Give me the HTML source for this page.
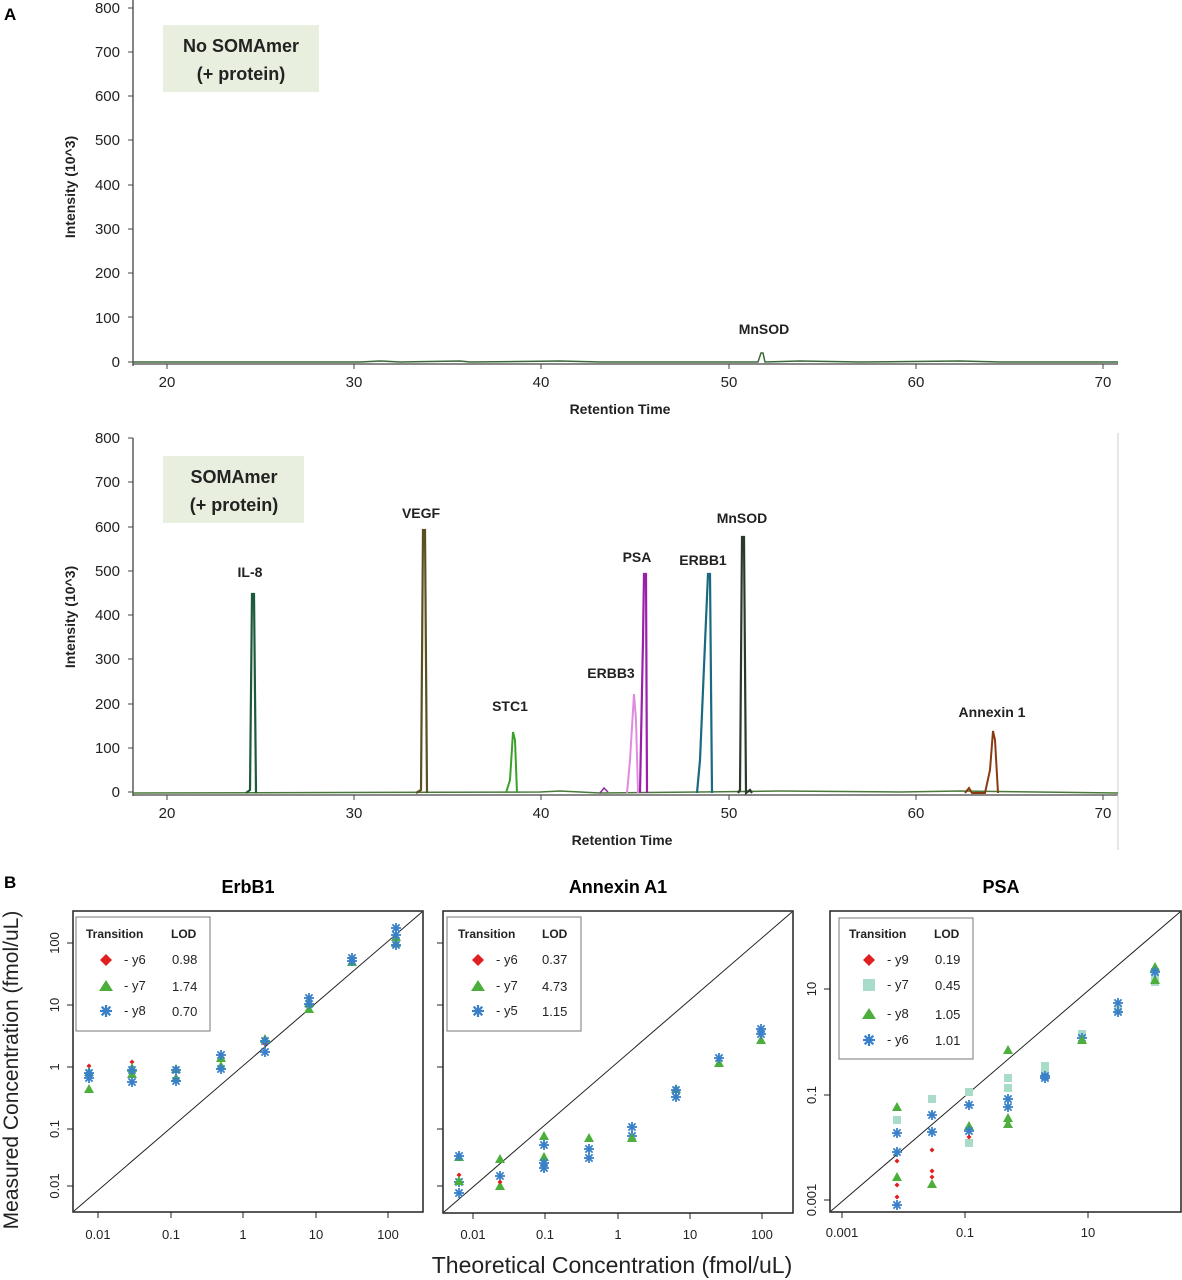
<!DOCTYPE html>
<html><head><meta charset="utf-8"><style>
html,body{margin:0;padding:0;background:#fff}
svg{display:block;font-family:"Liberation Sans",sans-serif}
.b{font-weight:bold}
</style></head><body>
<svg width="1182" height="1280" viewBox="0 0 1182 1280" xmlns="http://www.w3.org/2000/svg">
<defs>
<path id="dm" d="M0,-6 L6,0 L0,6 L-6,0Z" fill="#e02020"/>
<path id="dms" d="M0,-2.5 L2.5,0 L0,2.5 L-2.5,0Z" fill="#e02020"/>
<path id="tr" d="M0,-5 L5,4 L-5,4Z" fill="#4caf3c"/>
<path id="trl" d="M0,-6 L7,5 L-7,5Z" fill="#4caf3c"/>
<rect id="sq" x="-4" y="-4" width="8" height="8" fill="#a8dcc8"/>
<rect id="sql" x="-6" y="-6" width="12" height="12" fill="#a8dcc8"/>
<g id="st" stroke="#3a80c8" stroke-width="1.8"><line x1="-5" y1="0" x2="5" y2="0"/><line x1="0" y1="-5" x2="0" y2="5"/><line x1="-3.6" y1="-3.6" x2="3.6" y2="3.6"/><line x1="-3.6" y1="3.6" x2="3.6" y2="-3.6"/></g>
<g id="stl" stroke="#3a80c8" stroke-width="2.2"><line x1="-6" y1="0" x2="6" y2="0"/><line x1="0" y1="-6" x2="0" y2="6"/><line x1="-4.3" y1="-4.3" x2="4.3" y2="4.3"/><line x1="-4.3" y1="4.3" x2="4.3" y2="-4.3"/></g>
</defs>

<text x="4" y="20" class="b" font-size="17">A</text>
<g font-size="15" fill="#222">
<line x1="133" y1="0" x2="133" y2="366" stroke="#444" stroke-width="1.3"/>
<line x1="133" y1="364" x2="1118" y2="364" stroke="#444" stroke-width="1.3"/>
<g text-anchor="end">
<text x="120" y="367">0</text><text x="120" y="323">100</text><text x="120" y="278">200</text><text x="120" y="234">300</text><text x="120" y="190">400</text><text x="120" y="145">500</text><text x="120" y="101">600</text><text x="120" y="57">700</text><text x="120" y="13">800</text>
</g>
<g stroke="#444"><line x1="128" y1="362" x2="133" y2="362"/><line x1="128" y1="317" x2="133" y2="317"/><line x1="128" y1="273" x2="133" y2="273"/><line x1="128" y1="229" x2="133" y2="229"/><line x1="128" y1="185" x2="133" y2="185"/><line x1="128" y1="140" x2="133" y2="140"/><line x1="128" y1="96" x2="133" y2="96"/><line x1="128" y1="52" x2="133" y2="52"/><line x1="128" y1="8" x2="133" y2="8"/>
<line x1="167" y1="364" x2="167" y2="369"/><line x1="354" y1="364" x2="354" y2="369"/><line x1="541" y1="364" x2="541" y2="369"/><line x1="729" y1="364" x2="729" y2="369"/><line x1="916" y1="364" x2="916" y2="369"/><line x1="1103" y1="364" x2="1103" y2="369"/></g>
<g text-anchor="middle"><text x="167" y="387">20</text><text x="354" y="387">30</text><text x="541" y="387">40</text><text x="729" y="387">50</text><text x="916" y="387">60</text><text x="1103" y="387">70</text></g>
<text x="620" y="414" text-anchor="middle" class="b" font-size="14">Retention Time</text>
<text transform="translate(75,187) rotate(-90)" text-anchor="middle" class="b" font-size="14">Intensity (10^3)</text>
<rect x="163" y="25" width="156" height="67" fill="#e9efdf"/>
<text x="241" y="52" text-anchor="middle" class="b" font-size="18">No SOMAmer</text>
<text x="241" y="80" text-anchor="middle" class="b" font-size="18">(+ protein)</text>
<path d="M133,362 L360,362 L380,361 L400,362 L460,361 L470,362 L560,361 L600,362 L758,362 L761,353 L763,353 L765,362 L800,361 L860,362 L960,361 L1000,362 L1118,362" fill="none" stroke="#3a6a3a" stroke-width="1.5"/>
<text x="764" y="334" text-anchor="middle" class="b" font-size="14">MnSOD</text>

<line x1="133" y1="438" x2="133" y2="796" stroke="#444" stroke-width="1.3"/>
<line x1="133" y1="795" x2="1118" y2="795" stroke="#444" stroke-width="1.3"/>
<line x1="1118" y1="433" x2="1118" y2="850" stroke="#ccc" stroke-width="1"/>
<g text-anchor="end">
<text x="120" y="797">0</text><text x="120" y="753">100</text><text x="120" y="709">200</text><text x="120" y="664">300</text><text x="120" y="620">400</text><text x="120" y="576">500</text><text x="120" y="532">600</text><text x="120" y="487">700</text><text x="120" y="443">800</text>
</g>
<g stroke="#444"><line x1="128" y1="792" x2="133" y2="792"/><line x1="128" y1="748" x2="133" y2="748"/><line x1="128" y1="704" x2="133" y2="704"/><line x1="128" y1="659" x2="133" y2="659"/><line x1="128" y1="615" x2="133" y2="615"/><line x1="128" y1="571" x2="133" y2="571"/><line x1="128" y1="527" x2="133" y2="527"/><line x1="128" y1="482" x2="133" y2="482"/><line x1="128" y1="438" x2="133" y2="438"/>
<line x1="167" y1="795" x2="167" y2="800"/><line x1="354" y1="795" x2="354" y2="800"/><line x1="541" y1="795" x2="541" y2="800"/><line x1="729" y1="795" x2="729" y2="800"/><line x1="916" y1="795" x2="916" y2="800"/><line x1="1103" y1="795" x2="1103" y2="800"/></g>
<g text-anchor="middle"><text x="167" y="818">20</text><text x="354" y="818">30</text><text x="541" y="818">40</text><text x="729" y="818">50</text><text x="916" y="818">60</text><text x="1103" y="818">70</text></g>
<text x="622" y="845" text-anchor="middle" class="b" font-size="14">Retention Time</text>
<text transform="translate(75,617) rotate(-90)" text-anchor="middle" class="b" font-size="14">Intensity (10^3)</text>
<rect x="163" y="456" width="141" height="67" fill="#e9efdf"/>
<text x="234" y="483" text-anchor="middle" class="b" font-size="18">SOMAmer</text>
<text x="234" y="511" text-anchor="middle" class="b" font-size="18">(+ protein)</text>
<path d="M133,793 L540,792 L560,791 L600,793 L700,792 L780,791 L900,792 L960,791 L1118,793" fill="none" stroke="#4a7a3a" stroke-width="1.5"/>
<path d="M246,793 L250,790 L252,594 L254,594 L256,793" fill="none" stroke="#1d5a3a" stroke-width="2.2"/>
<path d="M416,793 L421,790 L423,530 L425,530 L427,793" fill="none" stroke="#5a5020" stroke-width="2.2"/>
<path d="M506,793 L510,780 L513,732 L515,740 L517,793" fill="none" stroke="#3aa02a" stroke-width="2"/>
<path d="M600,793 L604,788 L608,792" fill="none" stroke="#8a2aa0" stroke-width="1.5"/>
<path d="M627,793 L630,760 L634,694 L636,720 L638,793" fill="none" stroke="#e08ae0" stroke-width="2"/>
<path d="M640,793 L642,690 L643,640 L644,574 L646,574 L647,793" fill="none" stroke="#9a20a8" stroke-width="2.2"/>
<path d="M697,793 L700,760 L703,690 L706,620 L708,574 L710,574 L712,793" fill="none" stroke="#1a6a80" stroke-width="2.2"/>
<path d="M738,793 L740,790 L742,537 L744,537 L746,793 L750,790 L752,793" fill="none" stroke="#2a3a2a" stroke-width="2.2"/>
<path d="M965,793 L969,788 L972,793 L985,793 L990,770 L993,731 L995,740 L998,793" fill="none" stroke="#8a3a10" stroke-width="2"/>
<g class="b" font-size="14" text-anchor="middle">
<text x="250" y="577">IL-8</text><text x="421" y="518">VEGF</text><text x="510" y="711">STC1</text><text x="611" y="678">ERBB3</text><text x="637" y="562">PSA</text><text x="703" y="565">ERBB1</text><text x="742" y="523">MnSOD</text><text x="992" y="717">Annexin 1</text>
</g>
</g>

<text x="4" y="888" class="b" font-size="17">B</text>
<text x="248" y="893" text-anchor="middle" class="b" font-size="18">ErbB1</text>
<text x="618" y="893" text-anchor="middle" class="b" font-size="18">Annexin A1</text>
<text x="1001" y="893" text-anchor="middle" class="b" font-size="18">PSA</text>
<text transform="translate(18,1070) rotate(-90)" text-anchor="middle" font-size="21" fill="#222">Measured Concentration (fmol/uL)</text>
<text x="612" y="1273" text-anchor="middle" font-size="23" fill="#222">Theoretical Concentration (fmol/uL)</text>

<g stroke="#222" fill="none">
<rect x="73" y="911" width="350" height="301" stroke-width="1.5"/>
<line x1="74" y1="1211" x2="422" y2="912"/>
<rect x="443" y="911" width="350" height="302" stroke-width="1.5"/>
<line x1="444" y1="1212" x2="792" y2="912"/>
<rect x="830" y="911" width="351" height="301" stroke-width="1.5"/>
<line x1="831" y1="1211" x2="1180" y2="912"/>
<path d="M98,1212v6M171,1212v6M243,1212v6M316,1212v6M388,1212v6M73,943h-6M73,1005h-6M73,1067h-6M73,1129h-6M73,1186h-6"/>
<path d="M473,1213v6M545,1213v6M618,1213v6M690,1213v6M762,1213v6M443,943h-6M443,1005h-6M443,1067h-6M443,1129h-6M443,1186h-6"/>
<path d="M842,1212v6M965,1212v6M1088,1212v6M830,989h-6M830,1095h-6M830,1200h-6"/>
</g>
<g font-size="13" fill="#222" text-anchor="middle">
<text x="98" y="1239">0.01</text><text x="171" y="1239">0.1</text><text x="243" y="1239">1</text><text x="316" y="1239">10</text><text x="388" y="1239">100</text>
<text x="473" y="1239">0.01</text><text x="545" y="1239">0.1</text><text x="618" y="1239">1</text><text x="690" y="1239">10</text><text x="762" y="1239">100</text>
<text x="842" y="1237">0.001</text><text x="965" y="1237">0.1</text><text x="1088" y="1237">10</text>
<text transform="translate(59,943) rotate(-90)">100</text><text transform="translate(59,1005) rotate(-90)">10</text><text transform="translate(59,1067) rotate(-90)">1</text><text transform="translate(59,1129) rotate(-90)">0.1</text><text transform="translate(59,1186) rotate(-90)">0.01</text>
<text transform="translate(816,989) rotate(-90)">10</text><text transform="translate(816,1095) rotate(-90)">0.1</text><text transform="translate(816,1200) rotate(-90)">0.001</text>
</g>

<g font-size="13" fill="#222">
<rect x="76" y="917" width="134" height="114" fill="#fff" stroke="#777"/>
<text x="86" y="938" class="b" font-size="12">Transition</text><text x="171" y="938" class="b" font-size="12">LOD</text>
<use href="#dm" x="106" y="960"/><text x="124" y="964">- y6</text><text x="172" y="964">0.98</text>
<use href="#trl" x="106" y="986"/><text x="124" y="990">- y7</text><text x="172" y="991">1.74</text>
<use href="#stl" x="106" y="1011"/><text x="124" y="1015">- y8</text><text x="172" y="1016">0.70</text>

<rect x="447" y="917" width="134" height="114" fill="#fff" stroke="#777"/>
<text x="458" y="938" class="b" font-size="12">Transition</text><text x="542" y="938" class="b" font-size="12">LOD</text>
<use href="#dm" x="478" y="960"/><text x="496" y="964">- y6</text><text x="542" y="964">0.37</text>
<use href="#trl" x="478" y="986"/><text x="496" y="990">- y7</text><text x="542" y="991">4.73</text>
<use href="#stl" x="478" y="1011"/><text x="496" y="1015">- y5</text><text x="542" y="1016">1.15</text>

<rect x="839" y="918" width="134" height="141" fill="#fff" stroke="#777"/>
<text x="849" y="938" class="b" font-size="12">Transition</text><text x="934" y="938" class="b" font-size="12">LOD</text>
<use href="#dm" x="869" y="960"/><text x="887" y="964">- y9</text><text x="935" y="964">0.19</text>
<use href="#sql" x="869" y="985"/><text x="887" y="989">- y7</text><text x="935" y="990">0.45</text>
<use href="#trl" x="869" y="1014"/><text x="887" y="1018">- y8</text><text x="935" y="1019">1.05</text>
<use href="#stl" x="869" y="1040"/><text x="887" y="1044">- y6</text><text x="935" y="1045">1.01</text>
</g>

<g>
<use href="#dms" x="89" y="1066"/><use href="#tr" x="89" y="1089"/><use href="#tr" x="89" y="1072"/><use href="#st" x="89" y="1078"/><use href="#st" x="89" y="1073"/>
<use href="#dms" x="132" y="1062"/><use href="#tr" x="132" y="1074"/><use href="#tr" x="132" y="1068"/><use href="#st" x="132" y="1082"/><use href="#st" x="132" y="1070"/>
<use href="#tr" x="176" y="1069"/><use href="#tr" x="176" y="1078"/><use href="#st" x="176" y="1070"/><use href="#st" x="176" y="1081"/>
<use href="#tr" x="221" y="1058"/><use href="#tr" x="221" y="1066"/><use href="#st" x="221" y="1055"/><use href="#st" x="221" y="1069"/>
<use href="#dms" x="265" y="1044"/><use href="#tr" x="265" y="1039"/><use href="#st" x="265" y="1052"/><use href="#st" x="265" y="1041"/>
<use href="#tr" x="309" y="1009"/><use href="#tr" x="309" y="1003"/><use href="#st" x="309" y="998"/><use href="#st" x="309" y="1004"/>
<use href="#tr" x="352" y="962"/><use href="#st" x="352" y="958"/><use href="#st" x="352" y="961"/>
<use href="#tr" x="396" y="937"/><use href="#tr" x="396" y="943"/><use href="#st" x="396" y="928"/><use href="#st" x="396" y="945"/><use href="#st" x="396" y="935"/>
</g>
<g>
<use href="#dms" x="459" y="1175"/><use href="#tr" x="459" y="1157"/><use href="#st" x="459" y="1156"/><use href="#st" x="459" y="1182"/><use href="#st" x="459" y="1193"/><use href="#tr" x="459" y="1181"/>
<use href="#tr" x="500" y="1159"/><use href="#tr" x="500" y="1186"/><use href="#st" x="500" y="1176"/><use href="#dms" x="500" y="1182"/>
<use href="#tr" x="544" y="1136"/><use href="#tr" x="544" y="1157"/><use href="#st" x="544" y="1145"/><use href="#st" x="544" y="1163"/><use href="#st" x="544" y="1168"/>
<use href="#tr" x="589" y="1138"/><use href="#st" x="589" y="1149"/><use href="#st" x="589" y="1158"/>
<use href="#st" x="632" y="1127"/><use href="#st" x="632" y="1136"/><use href="#tr" x="632" y="1138"/>
<use href="#tr" x="676" y="1089"/><use href="#st" x="676" y="1097"/><use href="#st" x="676" y="1090"/>
<use href="#tr" x="719" y="1063"/><use href="#st" x="719" y="1058"/>
<use href="#tr" x="761" y="1040"/><use href="#st" x="761" y="1029"/><use href="#st" x="761" y="1034"/>
</g>
<g>
<use href="#tr" x="897" y="1107"/><use href="#sq" x="897" y="1120"/><use href="#st" x="897" y="1133"/><use href="#st" x="897" y="1152"/><use href="#dms" x="897" y="1161"/><use href="#tr" x="897" y="1177"/><use href="#dms" x="897" y="1185"/><use href="#dms" x="897" y="1197"/><use href="#st" x="897" y="1205"/>
<use href="#sq" x="932" y="1099"/><use href="#st" x="932" y="1115"/><use href="#st" x="932" y="1132"/><use href="#dms" x="932" y="1150"/><use href="#dms" x="932" y="1171"/><use href="#dms" x="932" y="1177"/><use href="#tr" x="932" y="1184"/>
<use href="#sq" x="969" y="1092"/><use href="#st" x="969" y="1105"/><use href="#tr" x="969" y="1126"/><use href="#st" x="969" y="1131"/><use href="#sq" x="969" y="1143"/><use href="#dms" x="969" y="1137"/>
<use href="#tr" x="1008" y="1050"/><use href="#sq" x="1008" y="1078"/><use href="#sq" x="1008" y="1088"/><use href="#st" x="1008" y="1099"/><use href="#st" x="1008" y="1107"/><use href="#tr" x="1008" y="1118"/><use href="#tr" x="1008" y="1124"/>
<use href="#sq" x="1045" y="1066"/><use href="#sq" x="1045" y="1074"/><use href="#st" x="1045" y="1078"/><use href="#st" x="1045" y="1076"/>
<use href="#sq" x="1082" y="1034"/><use href="#st" x="1082" y="1038"/><use href="#tr" x="1082" y="1040"/>
<use href="#sq" x="1118" y="1010"/><use href="#st" x="1118" y="1003"/><use href="#st" x="1118" y="1012"/>
<use href="#tr" x="1155" y="967"/><use href="#sq" x="1155" y="975"/><use href="#sq" x="1155" y="982"/><use href="#tr" x="1155" y="980"/><use href="#st" x="1155" y="972"/>
</g>
</svg>
</body></html>
